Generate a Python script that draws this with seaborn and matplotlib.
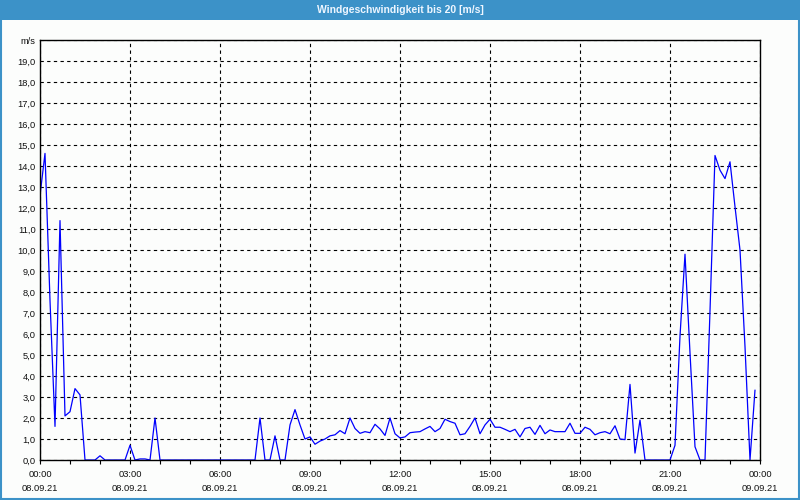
import numpy as np
import pandas as pd
import matplotlib
matplotlib.use("Agg")
import matplotlib.pyplot as plt
from matplotlib.patches import Rectangle
from matplotlib.ticker import MultipleLocator, FixedLocator
import seaborn as sns

# ---- data (10-minute samples starting 08.09.21 00:00) ----
sample_minutes = 10
speed = [
    12.6, 14.6, 7.6, 1.6, 11.4, 2.1,      # 00h
    2.3, 3.4, 3.1, 0, 0, 0,               # 01h
    0.2, 0, 0, 0, 0, 0,                   # 02h
    0.7, 0, 0.05, 0.05, 0, 2.0,           # 03h
    0, 0, 0, 0, 0, 0,                     # 04h
    0, 0, 0, 0, 0, 0,                     # 05h
    0, 0, 0, 0, 0, 0,                     # 06h
    0, 0, 2.0, 0, 0, 1.15,                # 07h
    0, 0, 1.67, 2.4, 1.67, 1.0,           # 08h
    1.1, 0.75, 0.9, 1.0, 1.15, 1.2,       # 09h
    1.4, 1.25, 2.0, 1.5, 1.27, 1.35,      # 10h
    1.3, 1.7, 1.48, 1.17, 2.0, 1.25,      # 11h
    1.05, 1.1, 1.3, 1.33, 1.35, 1.48,     # 12h
    1.6, 1.35, 1.5, 1.94, 1.83, 1.75,     # 13h
    1.2, 1.25, 1.6, 2.0, 1.25, 1.67,      # 14h
    1.94, 1.56, 1.56, 1.46, 1.35, 1.46,   # 15h
    1.1, 1.5, 1.56, 1.22, 1.65, 1.25,     # 16h
    1.43, 1.35, 1.35, 1.35, 1.75, 1.27,   # 17h
    1.27, 1.56, 1.46, 1.2, 1.3, 1.35,     # 18h
    1.25, 1.63, 1.0, 0.97, 3.6, 0.33,     # 19h
    1.9, 0, 0, 0, 0, 0,                   # 20h
    0, 0.7, 5.9, 9.8, 5.1, 0.63,          # 21h
    0, 0, 7.1, 14.5, 13.8, 13.4,          # 22h
    14.2, 12.06, 10.0, 5.4, 0, 3.33,      # 23h
]
x_tick_hours = [0, 3, 6, 9, 12, 15, 18, 21, 24]
x_tick_labels = ["00:00\n08.09.21", "03:00\n08.09.21", "06:00\n08.09.21",
                 "09:00\n08.09.21", "12:00\n08.09.21", "15:00\n08.09.21",
                 "18:00\n08.09.21", "21:00\n08.09.21", "00:00\n09.09.21"]
y_tick_labels = ["0,0", "1,0", "2,0", "3,0", "4,0", "5,0", "6,0", "7,0", "8,0", "9,0",
                 "10,0", "11,0", "12,0", "13,0", "14,0", "15,0", "16,0", "17,0",
                 "18,0", "19,0", "m/s"]
title = "Windgeschwindigkeit bis 20 [m/s]"

hours = np.arange(len(speed)) * sample_minutes / 60.0
df = pd.DataFrame({"hour": hours, "speed": speed})

sns.set_theme(style="white")
plt.rcParams["font.family"] = ["Liberation Sans", "DejaVu Sans"]

bg = "#FCFDFC"
blue = "#3C92C8"
fig = plt.figure(figsize=(8, 5), dpi=100, facecolor=bg)
ax = fig.add_axes([40 / 800, 40 / 500, 720 / 800, 420 / 500])
ax.set_facecolor(bg)

sns.lineplot(data=df, x="hour", y="speed", ax=ax, color="#0000FF", linewidth=0.9)

ax.set_xlim(0, 24)
ax.set_ylim(0, 20)
ax.xaxis.set_major_locator(FixedLocator(x_tick_hours))
ax.set_xticklabels(x_tick_labels, fontsize=6.7, linespacing=1.75)
ax.xaxis.set_minor_locator(MultipleLocator(1))
ax.yaxis.set_major_locator(FixedLocator(list(range(21))))
ax.set_yticklabels(y_tick_labels, fontsize=6.7)
ax.set_xlabel("")
ax.set_ylabel("")

ax.tick_params(axis="x", which="both", direction="out", length=3, width=0.8,
               color="black", pad=4, bottom=True)
ax.tick_params(axis="y", which="both", length=0, pad=3, left=True)
for lab in ax.get_xticklabels() + ax.get_yticklabels():
    lab.set_color("#111111")

ax.grid(True, which="major", axis="both", color="black", linestyle=(0, (3, 3)),
        linewidth=0.8)
ax.set_axisbelow(True)
for s in ax.spines.values():
    s.set_visible(True)
    s.set_color("black")
    s.set_linewidth(1.0)

# title bar and outer frame
fig.patches.append(Rectangle((0, 1 - 20 / 500), 1, 20 / 500, transform=fig.transFigure,
                             facecolor=blue, edgecolor="none", zorder=0))
fig.patches.append(Rectangle((0.001, 0.002), 0.998, 0.996, transform=fig.transFigure,
                             facecolor="none", edgecolor=blue, linewidth=1.5, zorder=1))
fig.text(0.5, 1 - 10 / 500, title, ha="center", va="center", color="#EEF6FF",
         fontsize=7.5, fontweight="bold")

fig.savefig("out.png", dpi=100, facecolor=bg)
